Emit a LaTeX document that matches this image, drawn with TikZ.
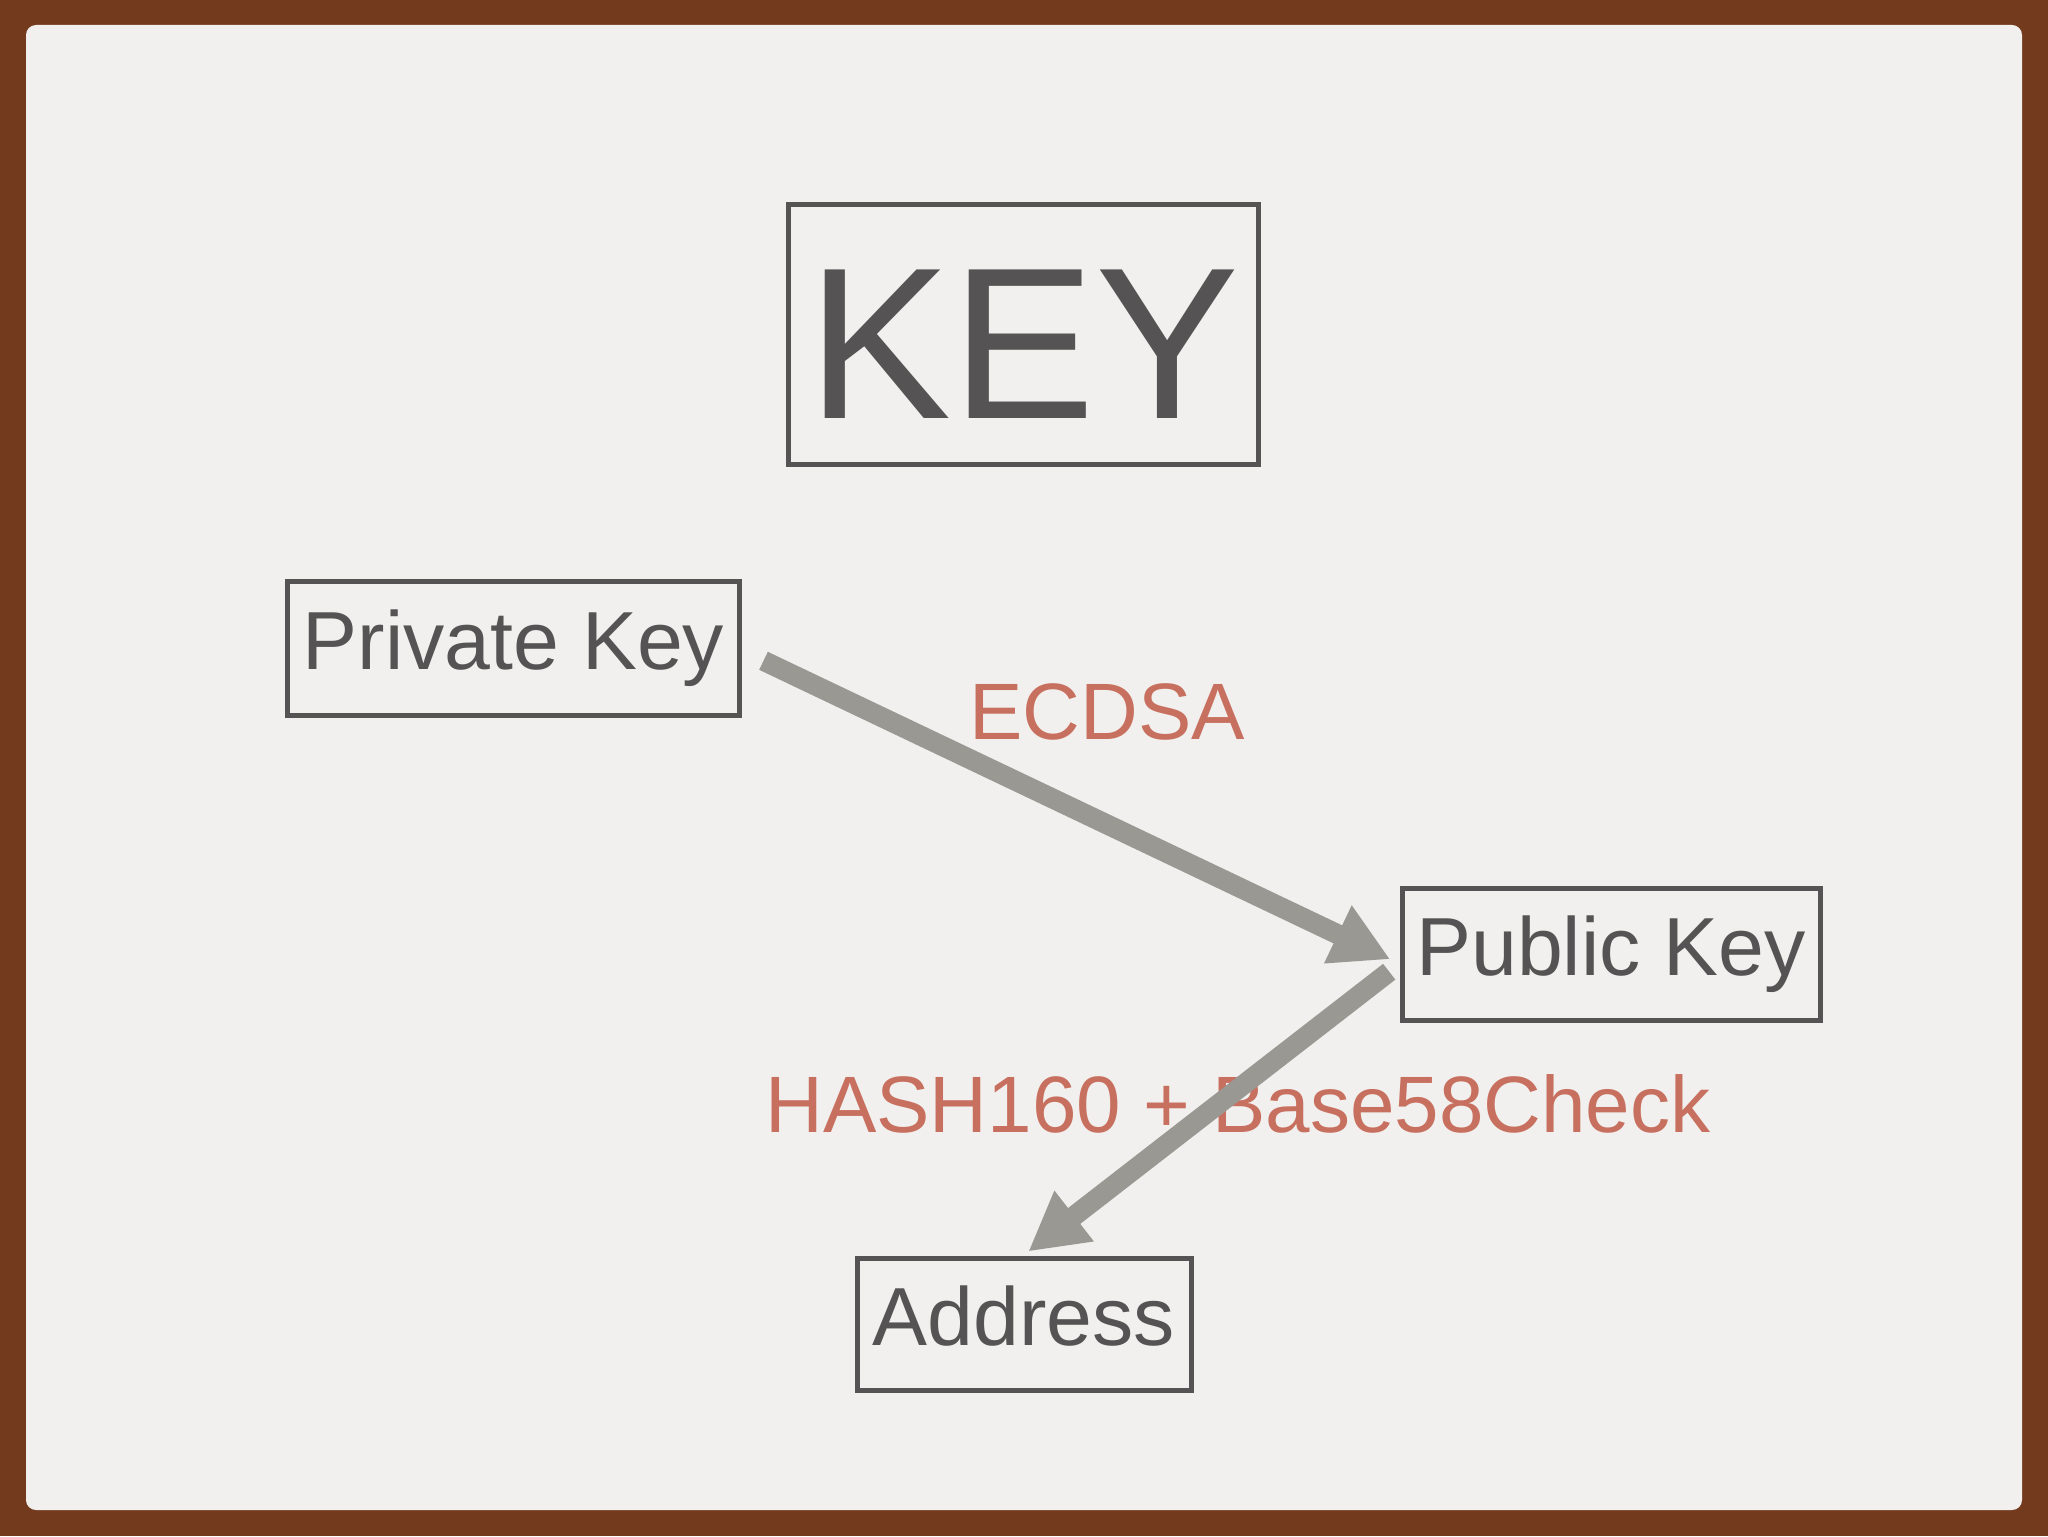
\documentclass[tikz,border=0pt]{standalone}
\usepackage{fontspec}
\setmainfont{Liberation Sans}
\usetikzlibrary{arrows.meta,calc}
\definecolor{frame}{HTML}{743A1E}
\definecolor{paper}{HTML}{F1F0EE}
\definecolor{ink}{HTML}{555353}
\definecolor{arrowgray}{HTML}{9A9892}
\definecolor{algo}{HTML}{C8705F}
\begin{document}
\begin{tikzpicture}[
                            x=0.5pt, y=-0.5pt,
                            >={Triangle[length=29pt,width=30pt]},
                            block/.style={rectangle, draw=ink, line width=2.5pt, text=ink, inner sep=0pt, font=\fontsize{41.2}{50}\selectfont, text depth=8.7pt},
                            link/.style={->, draw=arrowgray, line width=10pt},
                            algoname/.style={text=algo, inner sep=0pt, font=\fontsize{40}{48}\selectfont}
                        ]
                        % Background
                        \fill[frame] (0,0) rectangle (2048,1536);
                        \fill[paper, rounded corners=5pt] (26,25) rectangle (2022,1510);

                        % Blocks
                        \node [block, minimum width=235pt, minimum height=130pt, font=\fontsize{108}{120}\selectfont, text height=83.5pt, text depth=0pt] (title) at (1023.5,334.5) {KEY};
                        \node [block, minimum width=226pt, minimum height=67pt] (priv) at (513.5,648.5) {Private Key};
                        \node [block, minimum width=209pt, minimum height=66pt] (pub) at (1611,954.5) {Public Key};
                        \node [block, minimum width=167pt, minimum height=66pt] (addr) at (1024,1324.5) {Address};

                        % Labels
                        \node [algoname] (ecdsa) at (1107,712) {ECDSA};
                        \node [algoname] (hash) at (1238,1104) {HASH160 + Base58Check};

                        % Connections
                        \draw [link] ($(priv.east)+(21.5,12.3)$) -- ($(pub.west)+(-9.3,4.8)$);
                        \draw [link] ($(pub.west)+(-10.3,17.2)$) -- ($(addr.north)+(4.3,-4.5)$);
                    \end{tikzpicture}
\end{document}
